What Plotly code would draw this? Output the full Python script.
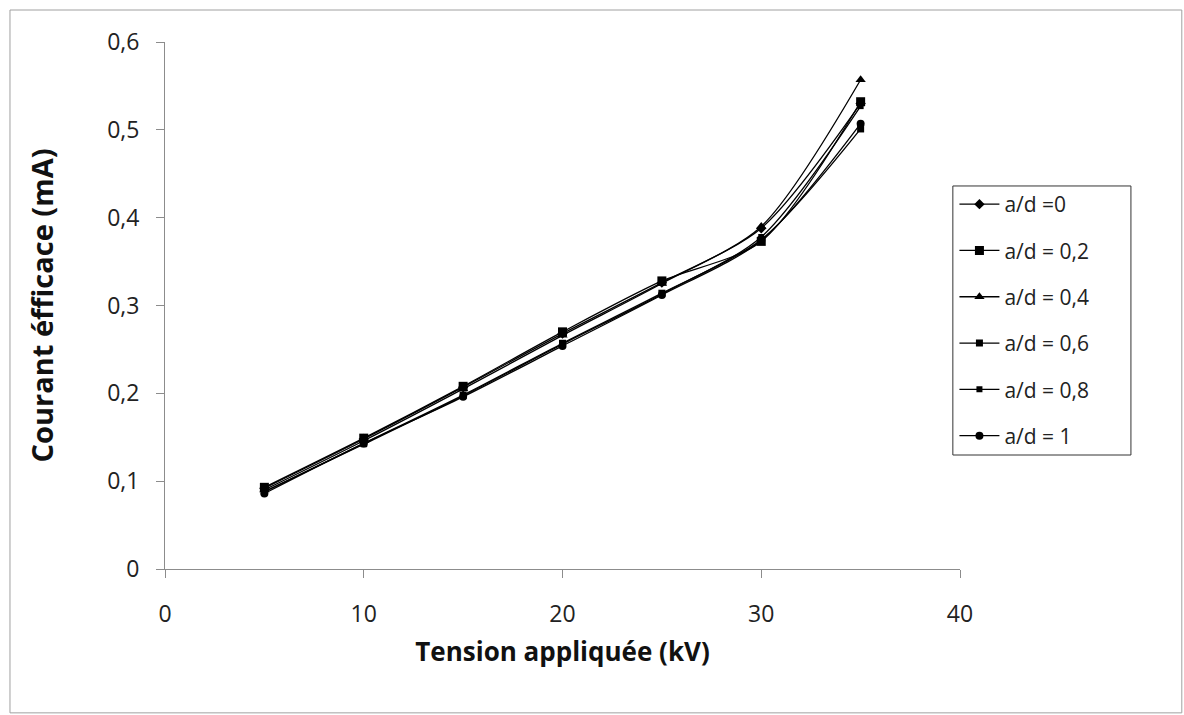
import plotly.graph_objects as go

# Applied voltage (kV)
tension_kv = [5, 10, 15, 20, 25, 30, 35]

# RMS current (mA) for each a/d ratio
courant_ad_0 = [0.092, 0.148, 0.207, 0.268, 0.326, 0.388, 0.530]
courant_ad_02 = [0.093, 0.149, 0.208, 0.270, 0.328, 0.373, 0.532]
courant_ad_04 = [0.090, 0.146, 0.205, 0.266, 0.325, 0.390, 0.557]
courant_ad_06 = [0.088, 0.143, 0.198, 0.257, 0.314, 0.375, 0.501]
courant_ad_08 = [0.088, 0.142, 0.197, 0.256, 0.313, 0.378, 0.527]
courant_ad_1 = [0.086, 0.143, 0.196, 0.254, 0.312, 0.374, 0.507]

series_names = ["a/d =0", "a/d = 0,2", "a/d = 0,4", "a/d = 0,6", "a/d = 0,8", "a/d = 1"]
series_values = [courant_ad_0, courant_ad_02, courant_ad_04, courant_ad_06, courant_ad_08, courant_ad_1]
marker_symbols = ["diamond", "square", "triangle-up", "square", "square", "circle"]
marker_sizes = [8, 9, 9, 7, 6, 8]

x_ticks = [0, 10, 20, 30, 40]
y_ticks = [0, 0.1, 0.2, 0.3, 0.4, 0.5, 0.6]
y_tick_text = ["0", "0,1", "0,2", "0,3", "0,4", "0,5", "0,6"]

font_family = "Open Sans, Lato, sans-serif"

fig = go.Figure()
for i, (name, vals, sym, sz) in enumerate(zip(series_names, series_values, marker_symbols, marker_sizes)):
    fig.add_trace(go.Scatter(
        x=tension_kv, y=vals, name=name, mode="lines+markers",
        line=dict(color="black", width=1.3, shape="spline", smoothing=0.8),
        marker=dict(symbol=sym, size=sz, color="black"),
        legendgroup=f"g{i}",
    ))

axis_common = dict(
    showgrid=False, zeroline=False, showline=True,
    linecolor="#8c8c8c", linewidth=1,
    ticks="outside", ticklen=8, tickcolor="#8c8c8c",
    tickfont=dict(family=font_family, size=23, color="#222"),
)

fig.update_xaxes(
    range=[0, 40], tickvals=x_ticks, ticklabelstandoff=16,
    title=dict(text="<b>Tension appliquée (kV)</b>", standoff=15,
               font=dict(family=font_family, size=26, color="#111")),
    **axis_common,
)
fig.update_yaxes(
    range=[0, 0.6], tickvals=y_ticks, ticktext=y_tick_text, ticklabelstandoff=12,
    title=dict(text="<b>Courant éfficace (mA)</b>", standoff=44,
               font=dict(family=font_family, size=29, color="#111")),
    **axis_common,
)

# Outer chart frame
fig.add_shape(type="rect", xref="paper", yref="paper",
              x0=-0.195, x1=1.279, y0=-0.273, y1=1.0607,
              line=dict(color="#a0a0a0", width=1), layer="below")

# Legend frame (wider than the legend's own content box)
fig.add_shape(type="rect", xref="paper", yref="paper",
              x0=0.991, x1=1.215, y0=0.2163, y1=0.7268,
              line=dict(color="#333", width=1), layer="above")

fig.update_layout(
    width=1184, height=715,
    margin=dict(l=165, r=224, t=42, b=146),
    plot_bgcolor="white", paper_bgcolor="white",
    font=dict(family=font_family, size=21, color="#222"),
    legend=dict(
        x=0.993, xanchor="left", y=0.4725, yanchor="middle",
        borderwidth=0, bgcolor="rgba(0,0,0,0)",
        font=dict(family=font_family, size=21, color="#222"),
        tracegroupgap=16, itemwidth=40,
    ),
)

fig.write_html("out.html")
